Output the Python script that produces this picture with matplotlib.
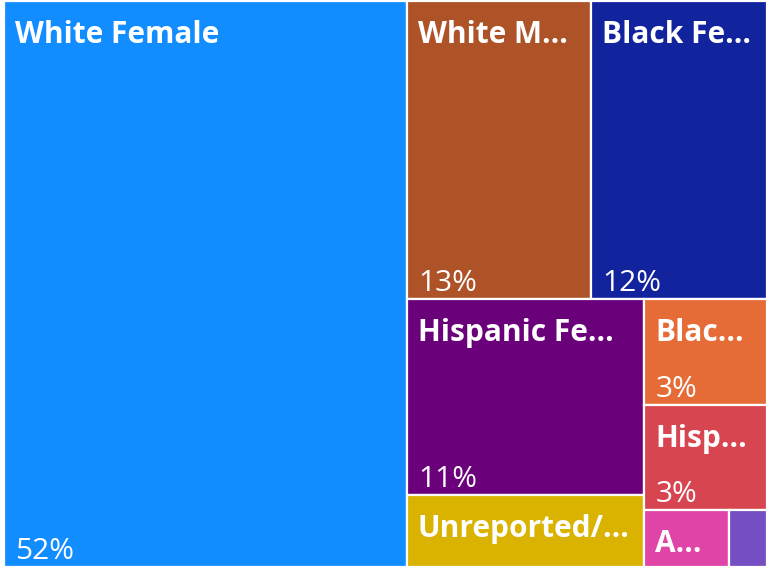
import matplotlib
matplotlib.use("Agg")
import matplotlib.pyplot as plt
from matplotlib.patches import Rectangle

# share of each group (percent)
groups = ["White Female", "White Male", "Black Female", "Hispanic Female",
          "Unreported/Unknown", "Black Male", "Hispanic Male", "Asian Female",
          "Asian Male"]
shares = [52.3, 12.6, 12.0, 10.7, 3.9, 3.0, 2.95, 1.1, 0.5]
colors = ["#118DFF", "#AE5328", "#12239E", "#6B007B", "#D9B300",
          "#E66C37", "#D64550", "#E044A7", "#744EC2"]

plt.rcParams['font.family'] = ['Open Sans', 'DejaVu Sans']


def squarify(values, x0, y0, x1, y1, ratio=(1 + 5 ** 0.5) / 2):
    # same idea as d3.treemapSquarify (golden ratio target)
    n = len(values)
    rects = [None] * n
    value = float(sum(values))
    i0 = i1 = 0
    while i0 < n:
        dx, dy = x1 - x0, y1 - y0
        sum_v = values[i1]
        i1 += 1
        min_v = max_v = sum_v
        alpha = max(dy / dx, dx / dy) / (value * ratio)
        beta = sum_v * sum_v * alpha
        min_ratio = max(max_v / beta, beta / min_v)
        while i1 < n:
            v = values[i1]
            s = sum_v + v
            mn = min(min_v, v)
            mx = max(max_v, v)
            beta = s * s * alpha
            new_ratio = max(mx / beta, beta / mn)
            if new_ratio > min_ratio:
                break
            sum_v, min_v, max_v, min_ratio = s, mn, mx, new_ratio
            i1 += 1
        if dx < dy:
            h = dy * sum_v / value
            xx = x0
            for i in range(i0, i1):
                w = dx * values[i] / sum_v
                rects[i] = (xx, y0, w, h)
                xx += w
            y0 += h
        else:
            w = dx * sum_v / value
            yy = y0
            for i in range(i0, i1):
                h = dy * values[i] / sum_v
                rects[i] = (x0, yy, w, h)
                yy += h
            x0 += w
        value -= sum_v
        i0 = i1
    return rects


def fit_label(ax, renderer, text, x, y, max_w, **kw):
    t = ax.text(x, y, text, **kw)
    if t.get_window_extent(renderer).width <= max_w:
        return t
    for k in range(len(text) - 1, 0, -1):
        t.set_text(text[:k].rstrip() + "...")
        if t.get_window_extent(renderer).width <= max_w:
            return t
    t.remove()
    return None


W, H = 766, 567
fig = plt.figure(figsize=(W / 100, H / 100), dpi=100)
ax = fig.add_axes([0, 0, 1, 1])
ax.set_xlim(0, W)
ax.set_ylim(H, 0)
ax.axis('off')
renderer = fig.canvas.get_renderer()

rects = squarify(shares, 4, 1, 767, 567)
pad = 11
for (x, y, w, h), name, share, col in zip(rects, groups, shares, colors):
    ax.add_patch(Rectangle((x, y), w, h, facecolor=col, edgecolor='white', linewidth=1.6))
    lab = fit_label(ax, renderer, name, x + pad, y + 42, w - pad - 13,
                    color='white', fontsize=21.5, fontweight='bold', va='baseline', ha='left')
    if lab is not None and h > 90:
        ax.text(x + pad, y + h - 8, "%d%%" % round(share), color='white',
                fontsize=21.5, va='baseline', ha='left')

fig.savefig("out.png", dpi=100)
